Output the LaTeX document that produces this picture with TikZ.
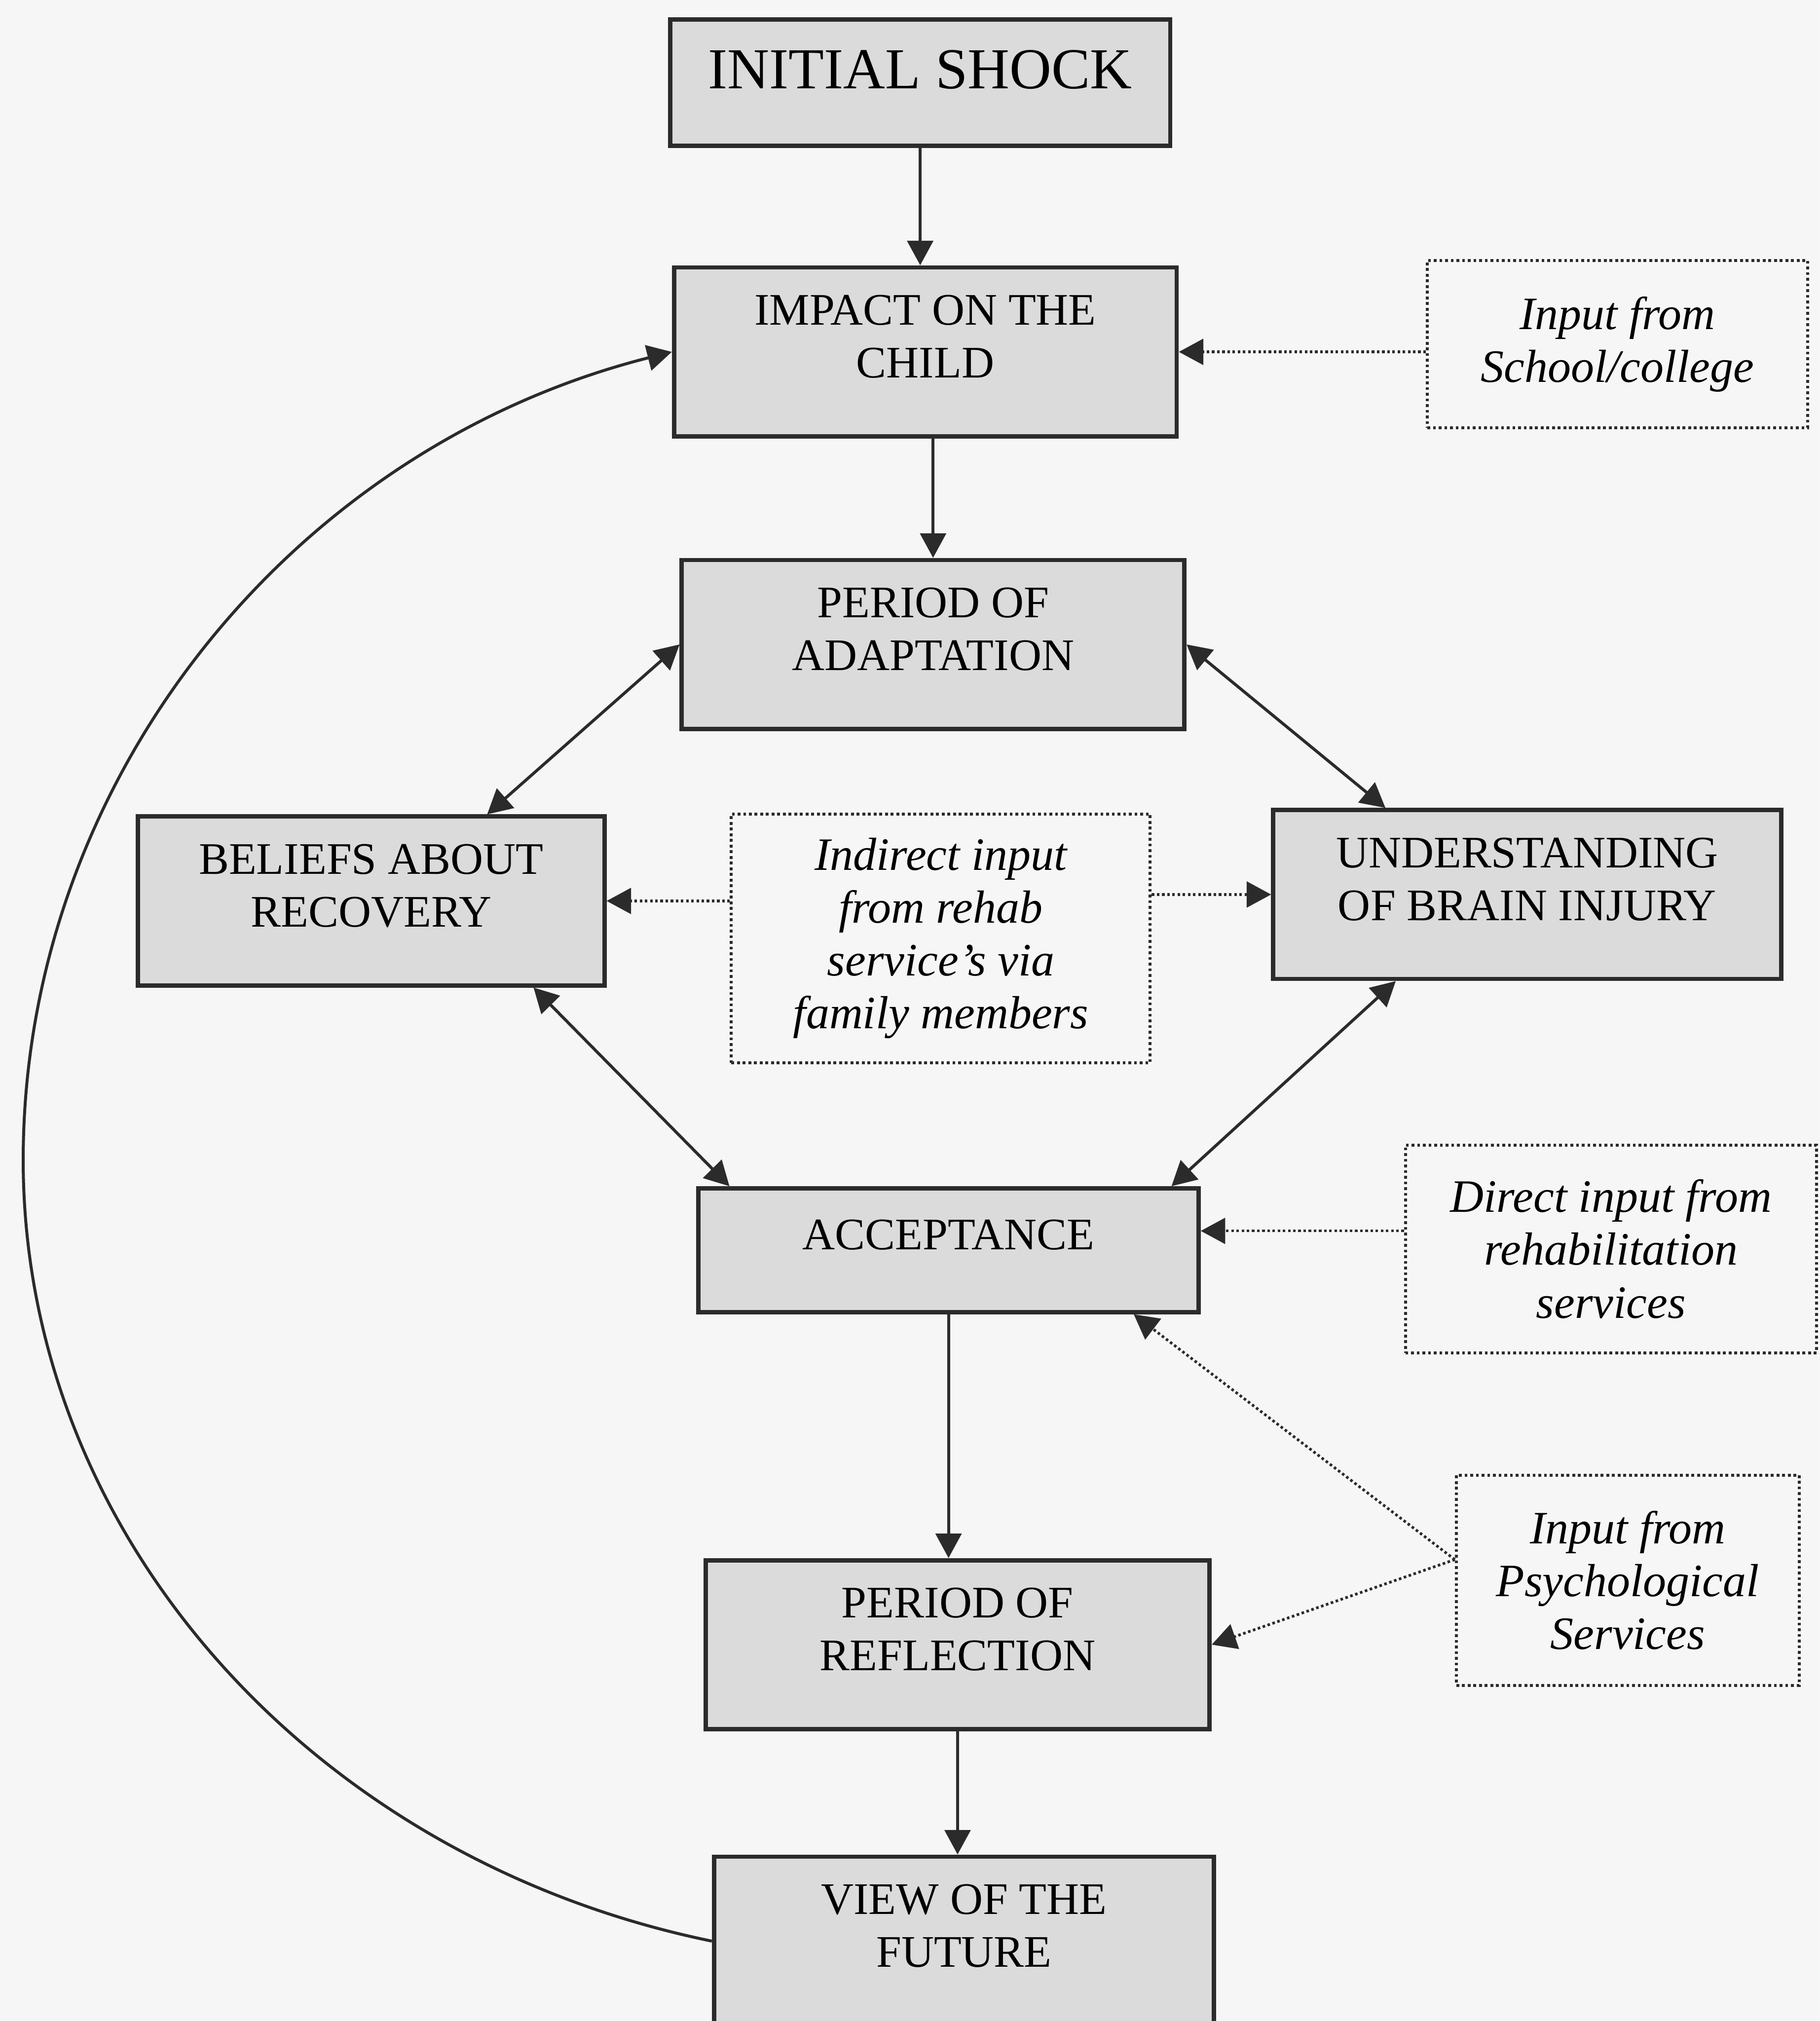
\documentclass[tikz,border=0pt]{standalone}
\usepackage{fontspec}
\setmainfont{Liberation Serif}
\usepackage{tikz}
\usetikzlibrary{arrows.meta}
\definecolor{ink}{gray}{0.17}
\definecolor{shade}{gray}{0.86}
\definecolor{paper}{gray}{0.965}

\begin{document}
\begin{tikzpicture}[x=1pt,y=-1pt,
  stage/.style={draw=ink,line width=3.4pt,fill=shade,align=center,inner sep=0pt,minimum height=131pt,text depth=24pt,font=\fontsize{35}{41}\selectfont},
  input/.style={draw=ink,line width=2.3pt,dash pattern=on 2.2pt off 2.2pt,align=center,inner sep=0pt,font=\fontsize{36}{41}\selectfont\itshape},
  link/.style={draw=ink,line width=2.3pt},
  feed/.style={draw=ink,line width=2.1pt,dash pattern=on 2pt off 2pt},
  >={Triangle[length=19pt,width=20pt]}]
\useasboundingbox (0,0) rectangle (1412,1568);
\clip (0,0) rectangle (1412,1568);
\fill[paper] (0,0) rectangle (1412,1568);

\node[stage,minimum width=388pt,minimum height=98pt,text depth=20pt,font=\fontsize{45}{50}\selectfont] (shock) at (714,64) {INITIAL SHOCK};
\node[stage,minimum width=390pt] (impact) at (718,273) {IMPACT ON THE\\CHILD};
\node[stage,minimum width=390pt] (adapt) at (724,500) {PERIOD OF\\ADAPTATION};
\node[stage,minimum width=362pt] (beliefs) at (288,699) {BELIEFS ABOUT\\RECOVERY};
\node[stage,minimum width=394pt] (underst) at (1185,694) {UNDERSTANDING\\OF BRAIN INJURY};
\node[stage,minimum width=388pt,minimum height=96pt] (accept) at (736,970) {ACCEPTANCE};
\node[stage,minimum width=391pt] (reflect) at (743,1276) {PERIOD OF\\REFLECTION};
\node[stage,minimum width=388pt] (view) at (748,1506) {VIEW OF THE\\FUTURE};

\node[input,minimum width=295pt,minimum height=130pt] (school) at (1255,267) {Input from\\School/college};
\node[input,minimum width=325pt,minimum height=193pt] (indirect) at (730,728) {Indirect input\\from rehab\\service's via\\family members};
\node[input,minimum width=319pt,minimum height=161pt] (direct) at (1250,969) {Direct input from\\rehabilitation\\services};
\node[input,minimum width=266pt,minimum height=163pt] (psych) at (1263,1226) {Input from\\Psychological\\Services};

\coordinate (loop) at (18,900);
\coordinate (accin) at ([yshift=15pt]accept.east);
\coordinate (psyout) at ([yshift=16pt]psych.west);

\draw[link,->] (shock.south) -- (shock.south |- impact.north);
\draw[link,->] (adapt.north |- impact.south) -- (adapt.north);
\draw[link,<->] ([xshift=90pt]beliefs.north) -- (adapt.west);
\draw[link,<->] (adapt.east) -- ([xshift=-110pt]underst.north);
\draw[link,<->] ([xshift=126pt]beliefs.south) -- ([xshift=-170pt]accept.north);
\draw[link,<->] ([xshift=-102pt]underst.south) -- ([xshift=173pt]accept.north);
\draw[link,->] (accept.south) -- (accept.south |- reflect.north);
\draw[link,->] (reflect.south) -- (reflect.south |- view.north);
\draw[link,->] (view.west) .. controls (241,1442) and (18,1190) .. (loop) .. controls (18,606) and (225,348) .. (impact.west);

\draw[feed,->] (indirect.west |- beliefs.east) -- (beliefs.east);
\draw[feed,->] (indirect.east |- underst.west) -- (underst.west);
\draw[feed,->] (school.west |- impact.east) -- (impact.east);
\draw[feed,->] (direct.west |- accin) -- (accin);
\draw[feed,->] (psyout) -- ([xshift=-52pt]accept.south east);
\draw[feed,->] (psyout) -- (reflect.east);
\end{tikzpicture}
\end{document}
